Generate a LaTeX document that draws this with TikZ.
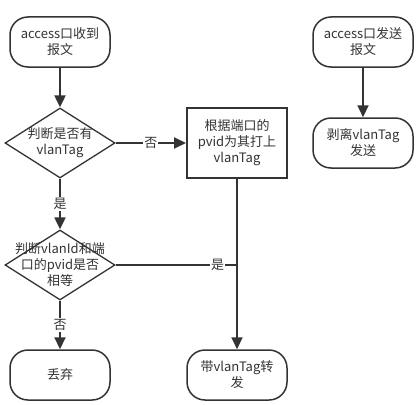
\documentclass[tikz,border=0pt]{standalone}
\usepackage{fontspec}
\setmainfont{Noto Sans CJK SC}
\usetikzlibrary{shapes.geometric, arrows.meta}
\definecolor{ink}{HTML}{333333}

\tikzset{
  terminal/.style={draw=ink, line width=1.5pt, rounded corners=18pt, minimum width=100pt, minimum height=50pt, align=center, text=ink},
  process/.style={draw=ink, line width=2pt, minimum width=100pt, minimum height=70pt, align=center, text=ink},
  decision/.style={diamond, draw=ink, line width=1.3pt, minimum width=110pt, minimum height=70pt, inner sep=0pt},
  flow/.style={draw=ink, line width=2pt, -{Triangle[width=11pt,length=12pt]}},
  flowline/.style={draw=ink, line width=2pt},
  tag/.style={fill=white, text=ink, inner sep=1pt}
}

\begin{document}
\begin{tikzpicture}[x=1pt, y=-1pt, font=\fontsize{13}{16}\selectfont]
\useasboundingbox (0,0) rectangle (419,404);

% receive side
\node[terminal] (recv) at (60,42) {access口收到\\报文};
\node[decision, label={[align=center, text=ink]center:判断是否有\\vlanTag}] (hasTag) at (60,143) {};
\node[process] (tagBox) at (237,143) {根据端口的\\pvid为其打上\\vlanTag};
\node[decision, label={[align=center, text=ink]center:判断vlanId和端\\口的pvid是否\\相等}] (chkPvid) at (60,265) {};
\node[terminal] (drop) at (60,375) {丢弃};
\node[terminal] (fwd) at (237,375) {带vlanTag转\\发};

% send side
\node[terminal] (send) at (363,42) {access口发送\\报文};
\node[terminal] (strip) at (363,143) {剥离vlanTag\\发送};

% connectors
\draw[flow] (recv) -- (hasTag);
\draw[flow] (hasTag.east) -- node[tag] {否} (tagBox.west);
\draw[flow] (hasTag.south) -- node[tag] {是} (chkPvid.north);
\draw[flow] (tagBox) -- (fwd);
\draw[flowline] (chkPvid.east) -- node[tag, pos=0.84] {是} (chkPvid.east -| fwd);
\draw[flow] (chkPvid.south) -- node[tag] {否} (drop.north);
\draw[flow] (send) -- (strip);
\end{tikzpicture}
\end{document}
